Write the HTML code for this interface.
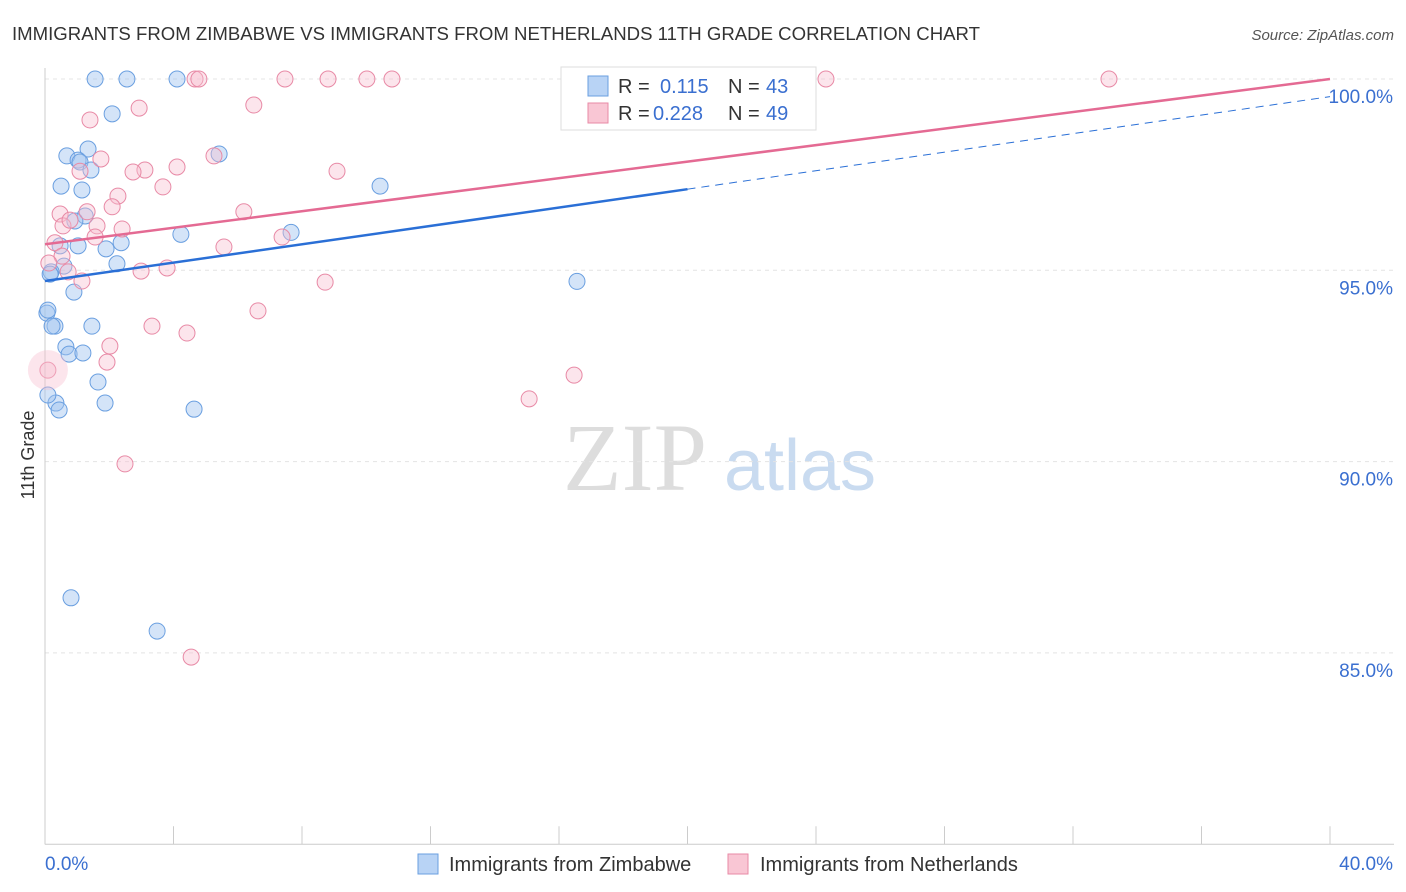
<!DOCTYPE html>
<html><head><meta charset="utf-8"><style>
body{margin:0;background:#fff;font-family:"Liberation Sans",sans-serif;}
svg{display:block}
</style></head><body>
<svg id="c" width="1406" height="892">
<text x="12" y="40" font-size="18.6" fill="#333">IMMIGRANTS FROM ZIMBABWE VS IMMIGRANTS FROM NETHERLANDS 11TH GRADE CORRELATION CHART</text>
<text x="1394" y="40" font-size="15" fill="#555" text-anchor="end" font-style="italic">Source: ZipAtlas.com</text>
<text x="34" y="455" font-size="18" fill="#333" text-anchor="middle" transform="rotate(-90 34 455)">11th Grade</text>
<g><text x="635" y="490" font-size="96" fill="#ddd" text-anchor="middle" font-family="Liberation Serif,serif">ZIP</text><text x="800" y="490" font-size="72" fill="#c9dbf0" text-anchor="middle">atlas</text></g>
<g id="grid"></g><g id="pts"></g><g id="lines"></g>
<g>
<rect x="561" y="67" width="255" height="63" fill="#fff" stroke="#ddd"/>
<rect x="588" y="76" width="20" height="20" fill="#b8d3f5" stroke="#6a9fe0"/>
<text x="618" y="93" font-size="20" fill="#333">R = </text><text x="660" y="93" font-size="20" fill="#3a6fd0">0.115</text>
<text x="728" y="93" font-size="20" fill="#333">N = </text><text x="766" y="93" font-size="20" fill="#3a6fd0">43</text>
<rect x="588" y="103" width="20" height="20" fill="#f9c6d4" stroke="#e88aa6"/>
<text x="618" y="120" font-size="20" fill="#333">R = </text><text x="653" y="120" font-size="20" fill="#3a6fd0">0.228</text>
<text x="728" y="120" font-size="20" fill="#333">N = </text><text x="766" y="120" font-size="20" fill="#3a6fd0">49</text>
</g>
<g>
<rect x="418" y="854" width="20" height="20" fill="#b8d3f5" stroke="#6a9fe0"/>
<text x="449" y="871" font-size="20" fill="#333">Immigrants from Zimbabwe</text>
<rect x="728" y="854" width="20" height="20" fill="#f9c6d4" stroke="#e88aa6"/>
<text x="760" y="871" font-size="20" fill="#333">Immigrants from Netherlands</text>
</g>
</svg>
<script>
const xTicks=[0,4,8,12,16,20,24,28,32,36,40];
const yTicks=[100,95,90,85];
const yTickLabels=["100.0%","95.0%","90.0%","85.0%"];
const zimX=[1.56,2.55,4.11,2.09,1.34,0.68,1.03,1.09,1.43,0.50,1.15,5.42,10.43,1.25,0.93,2.37,1.90,1.03,0.47,2.24,0.59,0.19,0.90,7.66,4.23,16.56,0.06,0.31,1.46,0.65,0.75,1.18,1.65,1.87,0.34,0.44,4.64,0.09,0.81,3.49,0.22,0.16,0.09];
const zimY=[100,100,100,99.09,98.17,97.99,97.88,97.83,97.62,97.20,97.10,98.04,97.20,96.42,96.29,95.72,95.56,95.64,95.64,95.17,95.11,94.96,94.43,95.99,95.94,94.71,93.88,93.54,93.54,93.00,92.81,92.84,92.08,91.53,91.53,91.35,91.37,91.74,86.44,85.57,93.54,94.90,93.96];
const netX=[4.67,4.79,7.47,8.81,10.02,10.80,24.31,33.12,2.93,6.50,1.40,1.74,5.26,4.11,3.11,2.74,1.09,9.09,3.67,2.27,2.09,0.47,1.31,6.19,0.56,1.62,2.40,1.56,7.38,0.31,5.57,0.53,0.12,0.72,3.80,2.99,1.15,8.72,6.63,3.33,4.42,2.02,1.93,0.09,16.47,15.07,2.49,4.55,0.78];
const netY=[100,100,100,100,100,100,100,100,99.24,99.32,98.93,97.91,97.99,97.70,97.62,97.57,97.59,97.59,97.18,96.94,96.66,96.47,96.53,96.53,96.16,96.16,96.08,95.87,95.87,95.72,95.61,95.37,95.19,94.96,95.06,94.98,94.72,94.69,93.94,93.54,93.36,93.02,92.60,92.39,92.26,91.64,89.94,84.89,96.31];
const trendZim=[94.72,97.12,99.54];
const trendNet=[95.68,100];
const NS="http://www.w3.org/2000/svg";
const X0=45,X1=1330,Y100=79,PPU=38.26;
const sx=v=>X0+(X1-X0)*v/40, sy=v=>Y100+(100-v)*PPU;
function mk(p,t,a){const e=document.createElementNS(NS,t);for(const k in a)e.setAttribute(k,a[k]);document.getElementById(p).appendChild(e);return e;}
yTicks.forEach((v,i)=>{
 const l=mk('grid','line',{x1:X0,x2:1394,y1:sy(v),y2:sy(v),stroke:'#e4e4e4','stroke-dasharray':'4,4'});
 
 
 const t=mk('grid','text',{x:1393,y:sy(v)+24,'font-size':19,fill:'#3a6fd0','text-anchor':'end'});t.textContent=yTickLabels[i];
 
 
});
const ax=mk('grid','line',{x1:X0,x2:X0,y1:68,y2:sy(80),stroke:'#ccc'});


const bx=mk('grid','line',{x1:X0,x2:1394,y1:sy(80),y2:sy(80),stroke:'#ccc'});


xTicks.forEach(v=>{const t=mk('grid','line',{x1:sx(v),x2:sx(v),y1:sy(80),y2:sy(80)-18,stroke:'#ccc'});
 
 });
[[0,'0.0%','start',45],[40,'40.0%','end',1393]].forEach(d=>{const t=mk('grid','text',{x:d[3],y:870,'font-size':19,fill:'#3a6fd0','text-anchor':d[2]});t.textContent=d[1];
 
 });
zimX.forEach((v,i)=>{const c=mk('pts','circle',{cx:sx(v),cy:sy(zimY[i]),r:8,fill:'rgba(160,196,240,0.45)',stroke:'#6a9fe0','stroke-width':1});
 
 });
netX.forEach((v,i)=>{const c=mk('pts','circle',{cx:sx(v),cy:sy(netY[i]),r:8,fill:'rgba(248,190,208,0.4)',stroke:'#e88aa6','stroke-width':1});
 
 });
const big=mk('pts','circle',{cx:sx(0.09),cy:sy(92.39),r:20,fill:'rgba(248,190,208,0.4)',stroke:'none'});


const l1=mk('lines','line',{x1:sx(0),y1:sy(trendZim[0]),x2:sx(20),y2:sy(trendZim[1]),stroke:'#2a6fd6','stroke-width':2.5});


const l2=mk('lines','line',{x1:sx(20),y1:sy(trendZim[1]),x2:sx(40),y2:sy(trendZim[2]),stroke:'#2a6fd6','stroke-width':1,'stroke-dasharray':'8,6'});


const l3=mk('lines','line',{x1:sx(0),y1:sy(trendNet[0]),x2:sx(40),y2:sy(trendNet[1]),stroke:'#e46a93','stroke-width':2.5});


</script>
</body></html>
